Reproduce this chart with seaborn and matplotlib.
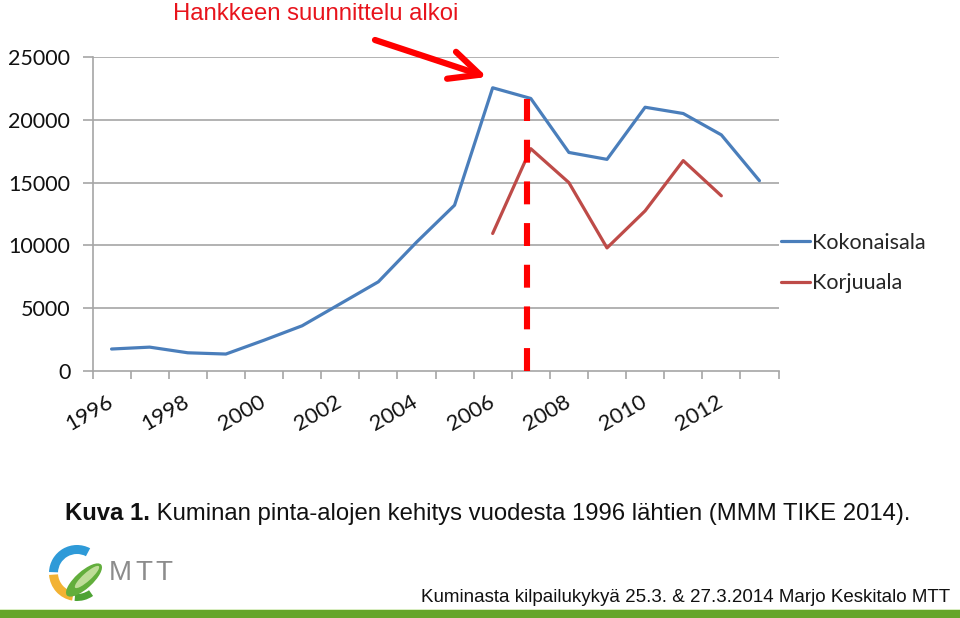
import numpy as np
import pandas as pd
import matplotlib
matplotlib.use("Agg")
import matplotlib.pyplot as plt
import seaborn as sns
from matplotlib.patches import Wedge, Ellipse, Rectangle
from matplotlib.lines import Line2D
from matplotlib import font_manager

# ---------------- data ----------------
years = list(range(1996, 2014))
kokonaisala = [1750, 1900, 1450, 1350, 2450, 3600, 5350, 7100, 10250, 13200,
               22550, 21700, 17400, 16850, 21000, 20500, 18800, 15150]
korjuuala = [np.nan] * 10 + [10950, 17700, 15000, 9800, 12750, 16750, 13950, np.nan]
series_names = ["Kokonaisala", "Korjuuala"]
y_ticks = [0, 5000, 10000, 15000, 20000, 25000]
x_tick_years = list(range(1996, 2013, 2))
marker_year = 2006.9          # "Hankkeen suunnittelu alkoi"
marker_top = 21650
title_text = "Hankkeen suunnittelu alkoi"
caption_bold = "Kuva 1."
caption_rest = " Kuminan pinta-alojen kehitys vuodesta 1996 lähtien (MMM TIKE 2014)."
footer_text = "Kuminasta kilpailukykyä 25.3. & 27.3.2014 Marjo Keskitalo MTT"

df = pd.DataFrame({
    "Vuosi": years * 2,
    "Ala": kokonaisala + korjuuala,
    "Sarja": [series_names[0]] * len(years) + [series_names[1]] * len(years),
})

# ---------------- style ----------------
sns.set_theme(style="white")
chart_font = ["Lato", "DejaVu Sans"]
plt.rcParams["font.family"] = chart_font

available = {f.name for f in font_manager.fontManager.ttflist}
narrow = "Liberation Sans Narrow" if "Liberation Sans Narrow" in available else "Liberation Sans"

W, H = 960, 618
fig = plt.figure(figsize=(W / 100, H / 100), dpi=100)
fig.patch.set_facecolor("white")

def fx(px):
    return px / W

def fy(py):
    return 1 - py / H

left, right, top, bottom = 92.5, 778.5, 57, 371
ax = fig.add_axes([fx(left), fy(bottom), fx(right) - fx(left), fy(top) - fy(bottom)])

palette = {"Kokonaisala": "#4A7EBB", "Korjuuala": "#BE4B48"}
sns.lineplot(data=df, x="Vuosi", y="Ala", hue="Sarja", palette=palette,
             linewidth=2.3, ax=ax, legend=False, sort=False)

ax.set_xlim(years[0] - 0.5, years[-1] + 0.5)
ax.set_ylim(0, 25000)
ax.set_xlabel("")
ax.set_ylabel("")

grid_col = "#A6A6A6"
ax.set_yticks(y_ticks)
ax.set_yticklabels([str(v) for v in y_ticks], fontsize=15.5, color="#111111")
for v in y_ticks[1:]:
    ax.axhline(v, color=grid_col, lw=1.2, zorder=0)

ax.set_xticks(x_tick_years)
ax.set_xticklabels([str(y) for y in x_tick_years], fontsize=15.8, color="#111111",
                   rotation=30, ha="right", va="center", rotation_mode="anchor")
ax.set_xticks(np.arange(years[0] - 0.5, years[-1] + 1.0, 1.0), minor=True)
ax.tick_params(axis="x", which="major", length=0, pad=21, bottom=False)
ax.tick_params(axis="x", which="minor", length=6, width=1.2, color=grid_col,
               direction="out", bottom=True)
ax.tick_params(axis="y", which="major", length=7, width=1.2, color=grid_col,
               direction="out", pad=9, left=True)

for side in ["top", "right"]:
    ax.spines[side].set_visible(False)
for side in ["left", "bottom"]:
    ax.spines[side].set_color(grid_col)
    ax.spines[side].set_linewidth(1.2)

# vertical dashed marker
lw_d = 4.4
ax.plot([marker_year, marker_year], [0, marker_top], color="#FF0000", lw=lw_d,
        linestyle=(0, (16.5 / lw_d, 13.5 / lw_d)), solid_capstyle="butt",
        dash_capstyle="butt", zorder=5)

# legend
handles = [Line2D([], [], color=palette[s], lw=2.3) for s in series_names]
fig.legend(handles, series_names, loc="upper left",
           bbox_to_anchor=(fx(781), fy(233)), frameon=False, fontsize=15.5,
           handlelength=1.35, handletextpad=0.1, labelspacing=0.95,
           borderpad=0, borderaxespad=0)

# overlay axes in pixel coordinates
ax_over = fig.add_axes([0, 0, 1, 1], facecolor="none")
ax_over.set_xlim(0, W)
ax_over.set_ylim(H, 0)
ax_over.axis("off")

# title + arrow
fig.text(fx(173), fy(14), title_text, color="#E8141C", fontsize=17.2,
         family=["Liberation Sans", "DejaVu Sans"], va="center", ha="left")
ax_over.annotate("", xy=(487, 77), xytext=(375, 40), xycoords="data",
                 arrowprops=dict(arrowstyle="->,head_length=1.8,head_width=0.85",
                                 color="#FF0000", lw=4.5, shrinkA=0, shrinkB=0))

# caption
cap_font = ["Liberation Sans", "DejaVu Sans"]
t1 = fig.text(fx(65), fy(514), caption_bold, fontsize=17.2, weight="bold",
              family=cap_font, va="center", ha="left", color="#111111")
fig.canvas.draw()
bb = t1.get_window_extent(renderer=fig.canvas.get_renderer())
fig.text(bb.x1 / W, fy(514), caption_rest, fontsize=17.2, family=cap_font,
         va="center", ha="left", color="#111111")

# footer
fig.text(fx(950), fy(597), footer_text, fontsize=13.5, family=[narrow, "DejaVu Sans"],
         va="center", ha="right", color="#111111")

# green bar
ax_over.add_patch(Rectangle((0, 610), W, 8, facecolor="#66A52B", edgecolor="none"))
ax_over.add_patch(Rectangle((0, 608.5), W, 1.5, facecolor="#D8EDC0", edgecolor="none"))

# logo
cx, cy = 77, 573
ax_over.add_patch(Wedge((cx, cy), 28, -178, -62, width=9, facecolor="#2E9AD8", edgecolor="none"))
ax_over.add_patch(Wedge((cx, cy), 28, 100, 176, width=9, facecolor="#F2B233", edgecolor="none"))
ax_over.add_patch(Wedge((cx, cy), 28, 55, 95, width=7, facecolor="#4DA334", edgecolor="none"))
ax_over.add_patch(Ellipse((84, 580), 46, 17, angle=-42, facecolor="#62AE3C", edgecolor="none"))
ax_over.add_patch(Ellipse((87, 577), 32, 8, angle=-42, facecolor="#BEDD98", edgecolor="none"))
logo_font = ["Liberation Sans", "DejaVu Sans"]
for letter, lx in zip("MTT", [109, 135, 155]):
    ax_over.text(lx, 573, letter, fontsize=20, color="#8C8C8C", va="center", ha="left",
                 family=logo_font)

fig.savefig("out.png", dpi=100, facecolor="white")
